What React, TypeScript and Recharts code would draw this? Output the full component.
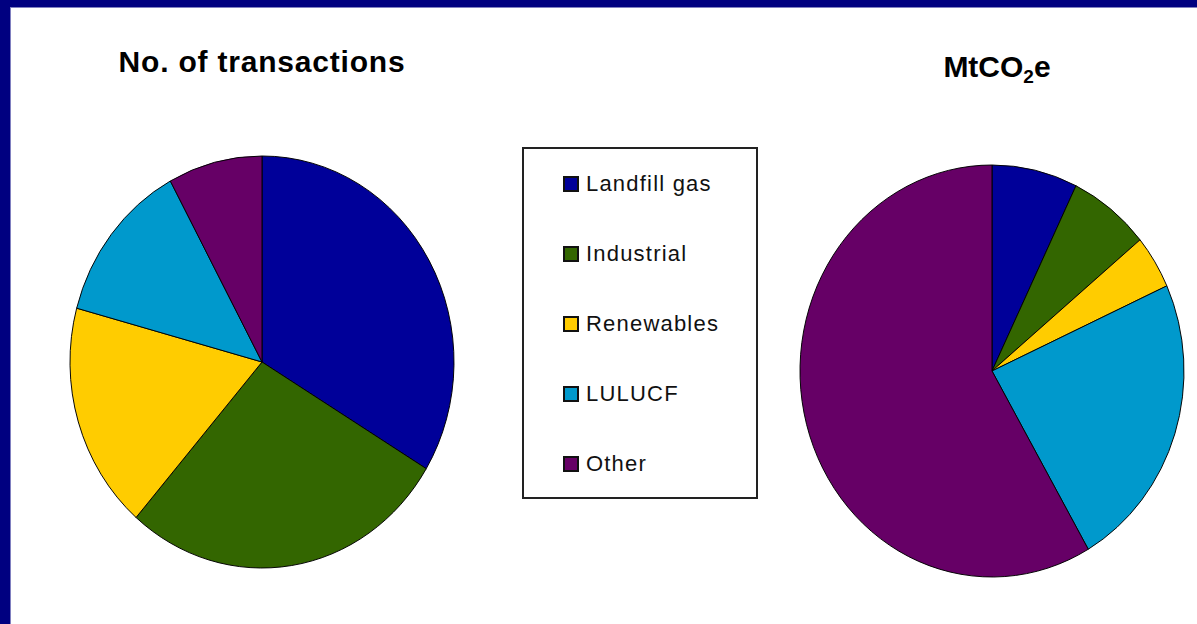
import React from 'react';
import { PieChart, Pie, Cell } from 'recharts';

// Categories shared by both pies and the legend
const CATEGORIES = ['Landfill gas', 'Industrial', 'Renewables', 'LULUCF', 'Other'];
const COLORS = ['#000099', '#336600', '#FFCC00', '#0099CC', '#660066'];

// Share of number of transactions
const TRANSACTIONS = [34, 28, 18, 13, 8];
// Share of MtCO2e volume
const MTCO2E = [7.2, 6.8, 4.2, 23.4, 58.3];

const FONT = '"Liberation Sans", Arial, sans-serif';

const toRows = (values: number[]) =>
  CATEGORIES.map((name, i) => ({ name, value: values[i] }));

// Pies in the original are slightly taller than wide, so squash horizontally
const PieBox = ({ values, left, top }: { values: number[]; left: number; top: number }) => (
  <div
    style={{
      position: 'absolute',
      left,
      top,
      width: 440,
      height: 440,
      transform: `scaleX(${192 / 206})`,
      transformOrigin: 'center',
    }}
  >
    <PieChart width={440} height={440} margin={{ top: 0, right: 0, bottom: 0, left: 0 }}>
      <Pie
        data={toRows(values)}
        dataKey="value"
        nameKey="name"
        cx={220}
        cy={220}
        outerRadius={206}
        startAngle={90}
        endAngle={-270}
        stroke="#000"
        strokeWidth={1}
        isAnimationActive={false}
      >
        {CATEGORIES.map((c, i) => (
          <Cell key={c} fill={COLORS[i]} />
        ))}
      </Pie>
    </PieChart>
  </div>
);

const titleStyle: React.CSSProperties = {
  position: 'absolute',
  fontFamily: FONT,
  fontSize: 30,
  fontWeight: 'bold',
  lineHeight: '30px',
  color: '#000',
  whiteSpace: 'nowrap',
  transform: 'translateX(-50%)',
};

export default function App() {
  return (
    <div
      style={{
        position: 'absolute',
        left: 0,
        top: 0,
        width: 1197,
        height: 624,
        overflow: 'hidden',
        background: '#000080',
      }}
    >
      <div
        style={{
          position: 'absolute',
          left: 10,
          top: 7,
          width: 1197,
          height: 630,
          background: '#fff',
          borderLeft: '1px solid #8080c0',
          borderTop: '1px solid #8080c0',
        }}
      />

      <div style={{ ...titleStyle, left: 262, top: 47, letterSpacing: 0.8 }}>No. of transactions</div>
      <div style={{ ...titleStyle, left: 997, top: 52 }}>
        MtCO<sub style={{ fontSize: 19, verticalAlign: '-6px', lineHeight: 0 }}>2</sub>e
      </div>

      <PieBox values={TRANSACTIONS} left={42} top={142} />
      <PieBox values={MTCO2E} left={772} top={151} />

      {/* legend box */}
      <div
        style={{
          position: 'absolute',
          left: 522,
          top: 147,
          width: 232,
          height: 348,
          border: '2px solid #222',
          background: '#fff',
        }}
      >
        {CATEGORIES.map((c, i) => (
          <div
            key={c}
            style={{
              position: 'absolute',
              left: 39,
              top: i * 70,
              height: 70,
              display: 'flex',
              alignItems: 'center',
              fontFamily: FONT,
              fontSize: 22,
              letterSpacing: 1.2,
              color: '#111',
              whiteSpace: 'nowrap',
            }}
          >
            <span
              style={{
                display: 'inline-block',
                width: 12,
                height: 12,
                border: '2px solid #111',
                background: COLORS[i],
                marginRight: 7,
              }}
            />
            {c}
          </div>
        ))}
      </div>
    </div>
  );
}
